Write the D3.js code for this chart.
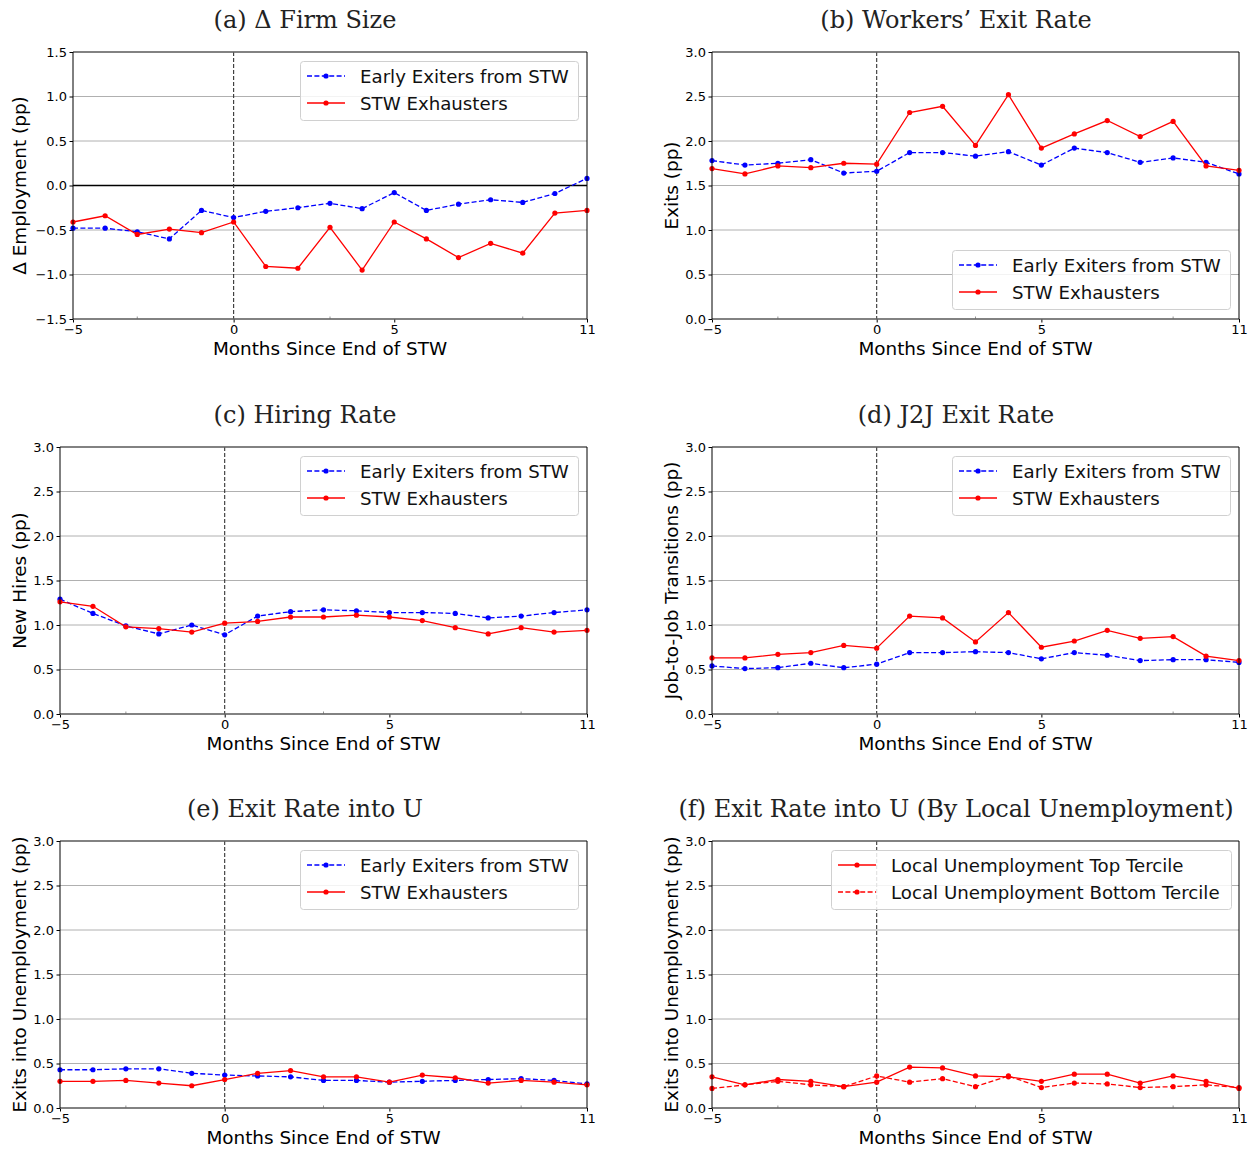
<!DOCTYPE html>
<html><head><meta charset="utf-8">
<script src="https://cdn.jsdelivr.net/npm/d3@7"></script>
<style>body{margin:0;background:#fff}svg{display:block}</style>
</head><body>
<svg id="chart" width="1255" height="1150"></svg>
<script>
// ---------- data ----------
const months = [-5,-4,-3,-2,-1,0,1,2,3,4,5,6,7,8,9,10,11];
const xTickValues = [-5,0,5,11];
const yTicksFirm = [-1.5,-1.0,-0.5,0.0,0.5,1.0,1.5];
const yTicksRate = [0.0,0.5,1.0,1.5,2.0,2.5,3.0];

const firmSizeEarly = [-0.48,-0.48,-0.52,-0.60,-0.28,-0.36,-0.29,-0.25,-0.20,-0.26,-0.08,-0.28,-0.21,-0.16,-0.19,-0.09,0.08];
const firmSizeExh   = [-0.41,-0.34,-0.55,-0.49,-0.53,-0.41,-0.91,-0.93,-0.47,-0.95,-0.41,-0.60,-0.81,-0.65,-0.76,-0.31,-0.28];

const exitEarly = [1.78,1.73,1.75,1.79,1.64,1.66,1.87,1.87,1.83,1.88,1.73,1.92,1.87,1.76,1.81,1.76,1.63];
const exitExh   = [1.69,1.63,1.72,1.70,1.75,1.74,2.32,2.39,1.95,2.52,1.92,2.08,2.23,2.05,2.22,1.72,1.67];

const hireEarly = [1.29,1.13,0.99,0.90,1.00,0.89,1.10,1.15,1.17,1.16,1.14,1.14,1.13,1.08,1.10,1.14,1.17];
const hireExh   = [1.26,1.21,0.98,0.96,0.92,1.02,1.04,1.09,1.09,1.11,1.09,1.05,0.97,0.90,0.97,0.92,0.94];

const j2jEarly = [0.54,0.51,0.52,0.57,0.52,0.56,0.69,0.69,0.70,0.69,0.62,0.69,0.66,0.60,0.61,0.61,0.58];
const j2jExh   = [0.63,0.63,0.67,0.69,0.77,0.74,1.10,1.08,0.81,1.14,0.75,0.82,0.94,0.85,0.87,0.65,0.60];

const unempEarly = [0.43,0.43,0.44,0.44,0.39,0.37,0.36,0.35,0.31,0.31,0.29,0.30,0.31,0.32,0.33,0.31,0.27];
const unempExh   = [0.30,0.30,0.31,0.28,0.25,0.32,0.39,0.42,0.35,0.35,0.29,0.37,0.34,0.28,0.31,0.29,0.26];

const localTop    = [0.35,0.26,0.32,0.30,0.24,0.29,0.46,0.45,0.36,0.35,0.30,0.38,0.38,0.28,0.36,0.30,0.22];
const localBottom = [0.22,0.26,0.30,0.26,0.24,0.36,0.29,0.33,0.24,0.36,0.23,0.28,0.27,0.23,0.24,0.26,0.23];

const labelEarly = "Early Exiters from STW";
const labelExh = "STW Exhausters";
const labelTop = "Local Unemployment Top Tercile";
const labelBottom = "Local Unemployment Bottom Tercile";
const xAxisLabel = "Months Since End of STW";

// ---------- layout ----------
const BLUE = "#0000ff", RED = "#ff0000";
const panels = [
  {l:73, r:587, t:52, b:319, title:"(a) \u0394 Firm Size", tx:305, ty:20, ylab:"\u0394 Employment (pp)", ylx:20,
   dom:[-1.5,1.5], ticks:yTicksFirm, zero:true,
   series:[{d:firmSizeEarly,c:BLUE,dash:true,lab:labelEarly},{d:firmSizeExh,c:RED,dash:false,lab:labelExh}],
   leg:{x:300,y:61,w:278}},
  {l:712, r:1239, t:52, b:319, title:"(b) Workers\u2019 Exit Rate", tx:956, ty:20, ylab:"Exits (pp)", ylx:672,
   dom:[0,3], ticks:yTicksRate,
   series:[{d:exitEarly,c:BLUE,dash:true,lab:labelEarly},{d:exitExh,c:RED,dash:false,lab:labelExh}],
   leg:{x:952,y:250,w:278}},
  {l:60, r:587, t:447, b:714, title:"(c) Hiring Rate", tx:305, ty:415, ylab:"New Hires (pp)", ylx:20,
   dom:[0,3], ticks:yTicksRate,
   series:[{d:hireEarly,c:BLUE,dash:true,lab:labelEarly},{d:hireExh,c:RED,dash:false,lab:labelExh}],
   leg:{x:300,y:456,w:278}},
  {l:712, r:1239, t:447, b:714, title:"(d) J2J Exit Rate", tx:956, ty:415, ylab:"Job-to-Job Transitions (pp)", ylx:672,
   dom:[0,3], ticks:yTicksRate,
   series:[{d:j2jEarly,c:BLUE,dash:true,lab:labelEarly},{d:j2jExh,c:RED,dash:false,lab:labelExh}],
   leg:{x:952,y:456,w:278}},
  {l:60, r:587, t:841, b:1108, title:"(e) Exit Rate into U", tx:305, ty:809, ylab:"Exits into Unemployment (pp)", ylx:20,
   dom:[0,3], ticks:yTicksRate,
   series:[{d:unempEarly,c:BLUE,dash:true,lab:labelEarly},{d:unempExh,c:RED,dash:false,lab:labelExh}],
   leg:{x:300,y:850,w:278}},
  {l:712, r:1239, t:841, b:1108, title:"(f) Exit Rate into U (By Local Unemployment)", tx:956, ty:809, ylab:"Exits into Unemployment (pp)", ylx:672,
   dom:[0,3], ticks:yTicksRate,
   series:[{d:localTop,c:RED,dash:false,lab:labelTop},{d:localBottom,c:RED,dash:true,lab:labelBottom}],
   leg:{x:831,y:850,w:400}}
];

const svg = d3.select("#chart");
const fmt = v => (v < 0 ? "\u2212" : "") + Math.abs(v).toFixed(1);

panels.forEach(p => {
  const g = svg.append("g");
  const x = d3.scaleLinear().domain([-5,11]).range([p.l,p.r]);
  const y = d3.scaleLinear().domain(p.dom).range([p.b,p.t]);

  // grid
  g.selectAll(".grid").data(p.ticks).join("line")
    .attr("x1",p.l).attr("x2",p.r).attr("y1",d=>y(d)).attr("y2",d=>y(d))
    .attr("stroke","#b0b0b0").attr("stroke-width",1);

  // axes (d3 axis)
  const yAxis = d3.axisLeft(y).tickValues(p.ticks).tickFormat(fmt).tickSize(3.5).tickPadding(2.5);
  const ya = g.append("g").attr("transform",`translate(${p.l},0)`).call(yAxis);
  const xAxis = d3.axisBottom(x).tickValues(xTickValues).tickFormat(v => (v<0?"\u2212":"")+Math.abs(v)).tickSize(3.5).tickPadding(2);
  const xa = g.append("g").attr("transform",`translate(0,${p.b})`).call(xAxis);
  [ya,xa].forEach(a => {
    a.select(".domain").remove();
    a.selectAll("text").attr("font-family","DejaVu Sans").attr("font-size",13).attr("fill","#000");
    a.selectAll("line").attr("stroke","#000");
  });

  // minor inside ticks on x axis
  g.selectAll(".minor").data([-3,3,9]).join("line")
    .attr("x1",d=>x(d)).attr("x2",d=>x(d)).attr("y1",p.b).attr("y2",p.b-2.5)
    .attr("stroke","#777").attr("stroke-width",0.8);

  // zero line
  if (p.zero) {
    g.append("line").attr("x1",p.l).attr("x2",p.r).attr("y1",y(0)).attr("y2",y(0))
      .attr("stroke","#000").attr("stroke-width",1.3);
  }
  // vertical dashed line at 0
  g.append("line").attr("x1",x(0)).attr("x2",x(0)).attr("y1",p.t).attr("y2",p.b)
    .attr("stroke","#333").attr("stroke-width",1.1).attr("stroke-dasharray","4,2");

  // series
  const line = d3.line().x((d,i)=>x(months[i])).y(d=>y(d));
  p.series.forEach(s => {
    g.append("path").datum(s.d).attr("d",line).attr("fill","none")
      .attr("stroke",s.c).attr("stroke-width",1.3)
      .attr("stroke-dasharray", s.dash ? "5,2.4" : null);
    g.selectAll(null).data(s.d).join("circle")
      .attr("cx",(d,i)=>x(months[i])).attr("cy",d=>y(d)).attr("r",2.6).attr("fill",s.c);
  });

  // frame
  g.append("line").attr("x1",p.l).attr("x2",p.r).attr("y1",p.t).attr("y2",p.t).attr("stroke","#666").attr("stroke-width",1.5);
  g.append("line").attr("x1",p.l).attr("x2",p.r).attr("y1",p.b).attr("y2",p.b).attr("stroke","#666").attr("stroke-width",1.5);
  g.append("line").attr("x1",p.l).attr("x2",p.l).attr("y1",p.t).attr("y2",p.b).attr("stroke","#000").attr("stroke-width",1);
  g.append("line").attr("x1",p.r).attr("x2",p.r).attr("y1",p.t).attr("y2",p.b).attr("stroke","#000").attr("stroke-width",1);

  // legend
  const L = p.leg;
  const lg = g.append("g");
  lg.append("rect").attr("x",L.x+0.5).attr("y",L.y+0.5).attr("width",L.w).attr("height",59).attr("rx",3)
    .attr("fill","#fff").attr("fill-opacity",0.85).attr("stroke","#d0d0d0").attr("stroke-width",1);
  p.series.forEach((s,i) => {
    const cy = L.y + 15 + i*27;
    lg.append("line").attr("x1",L.x+7).attr("x2",L.x+45).attr("y1",cy).attr("y2",cy)
      .attr("stroke",s.c).attr("stroke-width",1.3).attr("stroke-dasharray", s.dash ? "5,2.4" : null);
    lg.append("circle").attr("cx",L.x+26).attr("cy",cy).attr("r",2.6).attr("fill",s.c);
    lg.append("text").attr("x",L.x+60).attr("y",cy).attr("dy","0.36em")
      .attr("font-family","DejaVu Sans").attr("font-size",18.2).attr("fill","#111").text(s.lab);
  });

  // titles and labels
  g.append("text").attr("x",p.tx).attr("y",p.ty).attr("dy","0.35em").attr("text-anchor","middle")
    .attr("font-family","DejaVu Serif").attr("font-size",24).attr("fill","#222").text(p.title);
  g.append("text").attr("x",(p.l+p.r)/2).attr("y",p.b+30).attr("dy","0.35em").attr("text-anchor","middle")
    .attr("font-family","DejaVu Sans").attr("font-size",18.4).attr("fill","#000").text(xAxisLabel);
  g.append("text").attr("transform",`translate(${p.ylx},${(p.t+p.b)/2}) rotate(-90)`).attr("dy","0.35em")
    .attr("text-anchor","middle").attr("font-family","DejaVu Sans").attr("font-size",18.4).attr("fill","#000").text(p.ylab);
});
</script>
</body></html>
